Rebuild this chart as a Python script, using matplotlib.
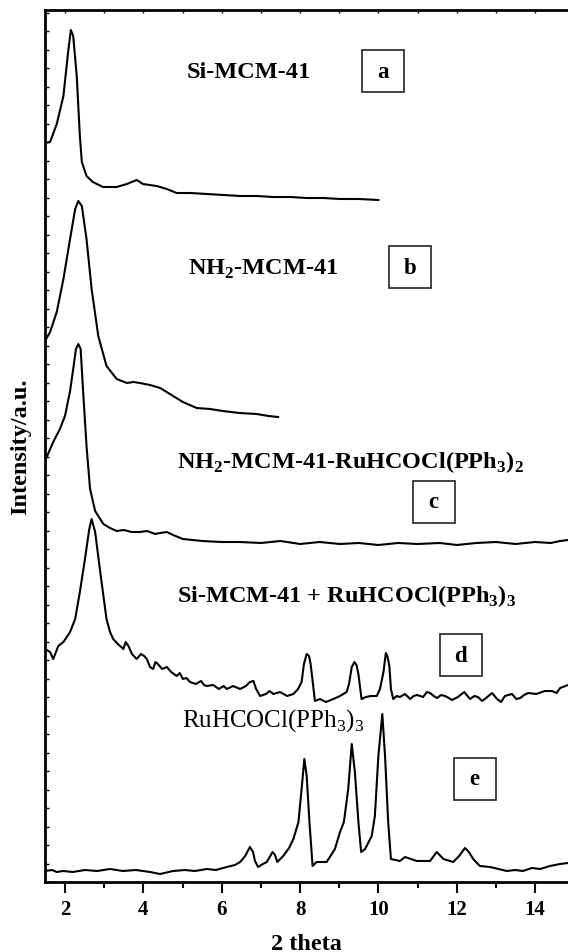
import matplotlib
matplotlib.use("Agg")
import matplotlib.pyplot as plt
from matplotlib.patches import Rectangle
from matplotlib.ticker import MultipleLocator

plt.rcParams['font.family'] = ['Liberation Serif', 'DejaVu Serif']
plt.rcParams['mathtext.fontset'] = 'custom'
plt.rcParams['mathtext.rm'] = 'Liberation Serif'
plt.rcParams['mathtext.bf'] = 'Liberation Serif:bold'

# ---- data (2theta, intensity a.u. incl. vertical offsets) ----
a_x = [1.49, 1.62, 1.79, 1.96, 2.08, 2.15, 2.21, 2.30, 2.38, 2.43, 2.55, 2.71, 2.97, 3.32, 3.58,
       3.83, 3.99, 4.34, 4.60, 4.85, 5.20, 5.62, 6.05, 6.47, 6.90, 7.31, 7.75, 8.17, 8.60, 9.02, 9.50, 10.0]
a_y = [739, 740, 758, 786, 830, 852, 846, 806, 746, 720, 706, 700, 695, 695, 698,
       702, 698, 696, 693, 689, 689, 688, 687, 686, 686, 685, 685, 684, 684, 683, 683, 682]

b_x = [1.49, 1.62, 1.79, 1.96, 2.13, 2.26, 2.34, 2.43, 2.55, 2.68, 2.85, 3.06, 3.32, 3.58, 3.75,
       3.91, 4.17, 4.43, 4.76, 5.01, 5.36, 5.70, 6.03, 6.45, 6.89, 7.20, 7.44]
b_y = [541, 550, 570, 603, 643, 673, 681, 676, 643, 593, 546, 516, 503, 499, 500,
       499, 497, 494, 486, 480, 474, 473, 471, 469, 468, 466, 465]

c_x = [1.49, 1.70, 1.87, 2.00, 2.13, 2.21, 2.28, 2.34, 2.40, 2.47, 2.55, 2.64, 2.77, 2.98, 3.15,
       3.32, 3.50, 3.70, 3.91, 4.10, 4.30, 4.43, 4.60, 4.76, 5.01, 5.50, 6.00, 6.47, 7.00, 7.50,
       8.00, 8.50, 9.02, 9.50, 10.00, 10.50, 11.00, 11.57, 12.00, 12.50, 13.00, 13.50, 14.00,
       14.40, 14.64, 14.84]
c_y = [421, 440, 453, 466, 491, 513, 533, 538, 533, 486, 436, 393, 371, 358, 354,
       351, 352, 350, 350, 351, 348, 349, 350, 347, 343, 341, 340, 340, 339, 341,
       338, 340, 338, 339, 337, 339, 338, 339, 337, 339, 340, 338, 340,
       339, 341, 342]

d_x = [1.49, 1.62, 1.70, 1.83, 1.96, 2.13, 2.26, 2.38, 2.51, 2.62, 2.68, 2.77, 2.89, 3.06, 3.15,
       3.23, 3.35, 3.49, 3.55, 3.62, 3.71, 3.83, 3.94, 4.02, 4.09, 4.17, 4.25, 4.31, 4.37, 4.48,
       4.60, 4.71, 4.85, 4.93, 5.01, 5.10, 5.19, 5.34, 5.47, 5.55, 5.62, 5.78, 5.93, 6.05, 6.13,
       6.29, 6.47, 6.62, 6.72, 6.81, 6.88, 6.98, 7.13, 7.22, 7.32, 7.49, 7.67, 7.83, 7.95, 8.04,
       8.10, 8.17, 8.23, 8.27, 8.33, 8.38, 8.51, 8.66, 8.85, 9.02, 9.19, 9.25, 9.32, 9.39, 9.44,
       9.49, 9.57, 9.68, 9.81, 9.96, 10.04, 10.13, 10.19, 10.23, 10.28, 10.32, 10.38, 10.47, 10.55,
       10.68, 10.81, 10.90, 10.99, 11.14, 11.24, 11.32, 11.41, 11.50, 11.60, 11.70, 11.80, 11.88,
       12.03, 12.19, 12.34, 12.45, 12.54, 12.65, 12.75, 12.90, 13.03, 13.13, 13.23, 13.41, 13.52,
       13.62, 13.72, 13.82, 14.03, 14.25, 14.43, 14.55, 14.64, 14.84]
d_y = [233, 230, 223, 236, 240, 250, 263, 290, 323, 353, 363, 350, 313, 263, 250,
       243, 238, 233, 240, 236, 228, 223, 228, 226, 223, 215, 213, 220, 218, 213,
       215, 210, 206, 209, 203, 204, 200, 198, 201, 197, 196, 197, 193, 196, 193,
       196, 193, 196, 200, 201, 193, 186, 188, 191, 188, 190, 186, 188, 193, 200,
       218, 228, 226, 218, 198, 181, 183, 180, 183, 186, 190, 198, 215, 220, 217,
       208, 183, 185, 186, 186, 193, 210, 229, 226, 216, 193, 183, 186, 185,
       188, 183, 186, 187, 185, 190, 189, 186, 184, 187, 186, 184, 182,
       185, 190, 183, 186, 185, 181, 184, 189, 183, 180, 186, 188, 183,
       184, 187, 189, 188, 191, 191, 189, 194, 197]

e_x = [1.49, 1.67, 1.79, 1.95, 2.20, 2.51, 2.82, 3.15, 3.48, 3.81, 4.17, 4.43, 4.76, 5.06, 5.32,
       5.62, 5.85, 6.13, 6.34, 6.47, 6.60, 6.72, 6.80, 6.85, 6.93, 7.05, 7.15, 7.30, 7.36, 7.42,
       7.57, 7.72, 7.83, 7.96, 8.04, 8.11, 8.17, 8.24, 8.32, 8.42, 8.68, 8.89, 9.02, 9.12, 9.23,
       9.32, 9.40, 9.49, 9.56, 9.66, 9.83, 9.91, 10.00, 10.10, 10.17, 10.25, 10.32, 10.55, 10.68,
       10.98, 11.32, 11.49, 11.66, 11.91, 12.06, 12.21, 12.31, 12.42, 12.59, 12.85, 13.28, 13.49,
       13.69, 13.92, 14.13, 14.38, 14.64, 14.84]
e_y = [11, 12, 10, 11, 10, 12, 11, 13, 11, 12, 10, 8, 11, 12, 11,
       13, 12, 15, 17, 20, 26, 35, 30, 21, 15, 18, 20, 30, 27, 20,
       26, 34, 43, 60, 93, 123, 106, 60, 16, 20, 20, 33, 50, 60, 93,
       138, 110, 60, 30, 33, 46, 66, 126, 168, 126, 60, 23, 21, 25,
       21, 21, 30, 23, 20, 26, 34, 30, 23, 16, 15, 11, 12,
       11, 14, 13, 16, 18, 19]

series = [(a_x, a_y), (b_x, b_y), (c_x, c_y), (d_x, d_y), (e_x, e_y)]

sample_names = ['Si-MCM-41',
                'NH$_\\mathregular{2}$-MCM-41',
                'NH$_\\mathregular{2}$-MCM-41-RuHCOCl(PPh$_\\mathregular{3}$)$_\\mathregular{2}$',
                'Si-MCM-41 + RuHCOCl(PPh$_\\mathregular{3}$)$_\\mathregular{3}$',
                'RuHCOCl(PPh$_\\mathregular{3}$)$_\\mathregular{3}$']
name_weights = ['bold', 'bold', 'bold', 'bold', 'normal']
name_sizes = [17.5, 17.5, 17.5, 17.5, 18]
name_pos = [(5.11, 805), (5.14, 608), (4.85, 415), (4.85, 281), (4.98, 156)]

box_letters = ['a', 'b', 'c', 'd', 'e']
box_pos = [(10.11, 811), (10.81, 615), (11.41, 380), (12.10, 227), (12.46, 103)]

x_ticks = [2, 4, 6, 8, 10, 12, 14]

# ---- figure ----
fig = plt.figure(figsize=(5.68, 9.53), dpi=100)
ax = fig.add_axes([45 / 568, 70 / 953, 523 / 568, 872 / 953])

for xs, ys in series:
    ax.plot(xs, ys, color='black', lw=1.5, solid_joinstyle='round')

ax.set_xlim(1.49, 14.84)
ax.set_ylim(0, 872)

for (x, y), name, w, fs in zip(name_pos, sample_names, name_weights, name_sizes):
    ax.text(x, y, name, fontsize=fs, fontweight=w, ha='left', va='baseline')

bw, bh = 1.072, 42
for (x, y), let in zip(box_pos, box_letters):
    ax.add_patch(Rectangle((x - bw / 2, y - bh / 2), bw, bh, fill=False,
                           edgecolor='#222222', lw=1.2))
    ax.text(x, y, let, fontsize=16.5, fontweight='bold', ha='center', va='center')

for s in ['left', 'bottom', 'top']:
    ax.spines[s].set_linewidth(2.0)
ax.spines['right'].set_visible(False)

ax.set_xticks(x_ticks)
ax.xaxis.set_minor_locator(MultipleLocator(1))
ax.tick_params(axis='x', which='major', direction='out', length=8, width=1.5,
               labelsize=15, pad=4, top=False)
ax.tick_params(axis='x', which='minor', direction='out', length=4, width=1.5, top=False)
for lab in ax.get_xticklabels():
    lab.set_fontweight('bold')

ax.set_yticks([])
ax.yaxis.set_minor_locator(MultipleLocator(18.5))
ax.tick_params(axis='y', which='minor', direction='in', length=3, width=1, labelleft=False)

# top inward small ticks
sec = ax.secondary_xaxis('top')
sec.set_xticks(list(range(2, 15)))
sec.tick_params(direction='in', length=2, width=1, labeltop=False)
sec.spines['top'].set_visible(False)

ax.set_xlabel('2 theta', fontsize=17.5, fontweight='bold', labelpad=10)
ax.set_ylabel('Intensity/a.u.', fontsize=17.5, fontweight='bold', labelpad=10)

fig.savefig('out.png', dpi=100)
